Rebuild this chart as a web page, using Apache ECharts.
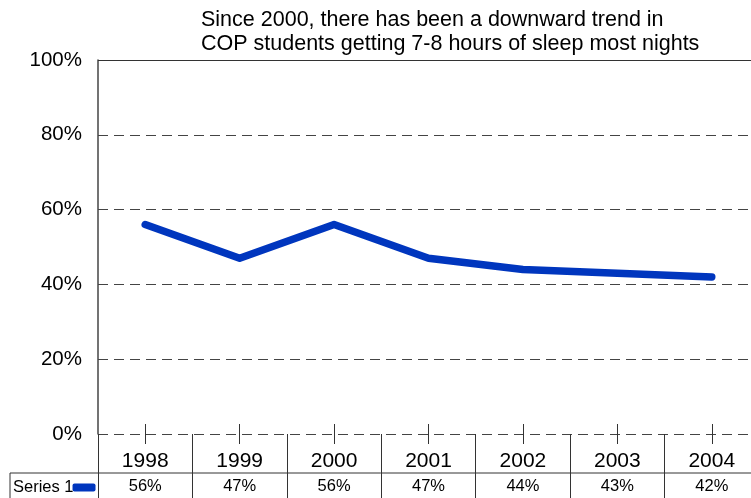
<!DOCTYPE html>
<html>
<head>
<meta charset="utf-8">
<script src="https://cdn.jsdelivr.net/npm/echarts@6/dist/echarts.min.js"></script>
<style>html,body{margin:0;padding:0;background:#fff}#c{width:751px;height:498px}</style>
</head>
<body>
<div id="c"></div>
<script>
const titleLines = ['Since 2000, there has been a downward trend in', 'COP students getting 7-8 hours of sleep most nights'];
const years = ['1998', '1999', '2000', '2001', '2002', '2003', '2004'];
const seriesName = 'Series 1';
const values = [56, 47, 56, 47, 44, 43, 42];
const yTicks = [0, 20, 40, 60, 80, 100];

const chart = echarts.init(document.getElementById('c'), null, {renderer: 'canvas'});
const font = 'Liberation Sans, Arial, sans-serif';
const blue = '#0036be';
chart.setOption({
  animation: false,
  title: {
    text: titleLines.join('\n'),
    left: 196, top: 3,
    textStyle: {fontFamily: font, fontSize: 21.5, fontWeight: 'normal', color: '#000', lineHeight: 24}
  },
  legend: {
    data: [seriesName], left: 8, top: 474, align: 'right',
    itemWidth: 23, itemHeight: 8, icon: 'roundRect', itemGap: 2,
    textStyle: {fontFamily: font, fontSize: 16.5, color: '#000', padding: [0, -6, 0, 0]}
  },
  grid: {left: 98, right: -8, top: 60, bottom: 64, outerBoundsMode: 'none', containLabel: false},
  xAxis: [
    {type: 'category', data: years, axisLine: {show: false},
     axisTick: {show: true, alignWithLabel: true, length: 10, lineStyle: {color: '#333'}},
     axisLabel: {fontFamily: font, fontSize: 21, color: '#000', margin: 17}},
    {type: 'category', data: years, position: 'bottom', axisLine: {show: false},
     axisTick: {show: true, alignWithLabel: true, inside: true, length: 10, lineStyle: {color: '#333'}},
     axisLabel: {show: false}},
    {type: 'category', data: years, position: 'bottom', axisLine: {show: false},
     axisTick: {show: true, length: 64, lineStyle: {color: '#333'}},
     axisLabel: {fontFamily: font, fontSize: 16.5, color: '#000', margin: 44,
       formatter: (v, i) => values[i] + '%'}}
  ],
  yAxis: {
    type: 'value', min: yTicks[0], max: yTicks[yTicks.length - 1], interval: 20,
    axisLine: {show: true, lineStyle: {color: '#444', width: 1.5}},
    axisTick: {show: false},
    axisLabel: {fontFamily: font, fontSize: 20.5, color: '#000', margin: 16, formatter: '{value}%'},
    splitLine: {show: true, lineStyle: {color: '#444', type: [10, 6], width: 1}}
  },
  series: [{
    name: seriesName, type: 'line', data: values, symbol: 'none',
    itemStyle: {color: blue},
    lineStyle: {color: blue, width: 7.5, cap: 'round', join: 'round'},
    markLine: {silent: true, symbol: 'none', label: {show: false},
      lineStyle: {color: '#333', type: 'solid', width: 1},
      data: [{yAxis: 100}]}
  }],
  graphic: [
    {type: 'line', shape: {x1: 10, y1: 473, x2: 751, y2: 473}, style: {stroke: '#333', lineWidth: 1}},
    {type: 'line', shape: {x1: 10, y1: 473, x2: 10, y2: 498}, style: {stroke: '#333', lineWidth: 1}}
  ]
});
</script>
</body>
</html>
